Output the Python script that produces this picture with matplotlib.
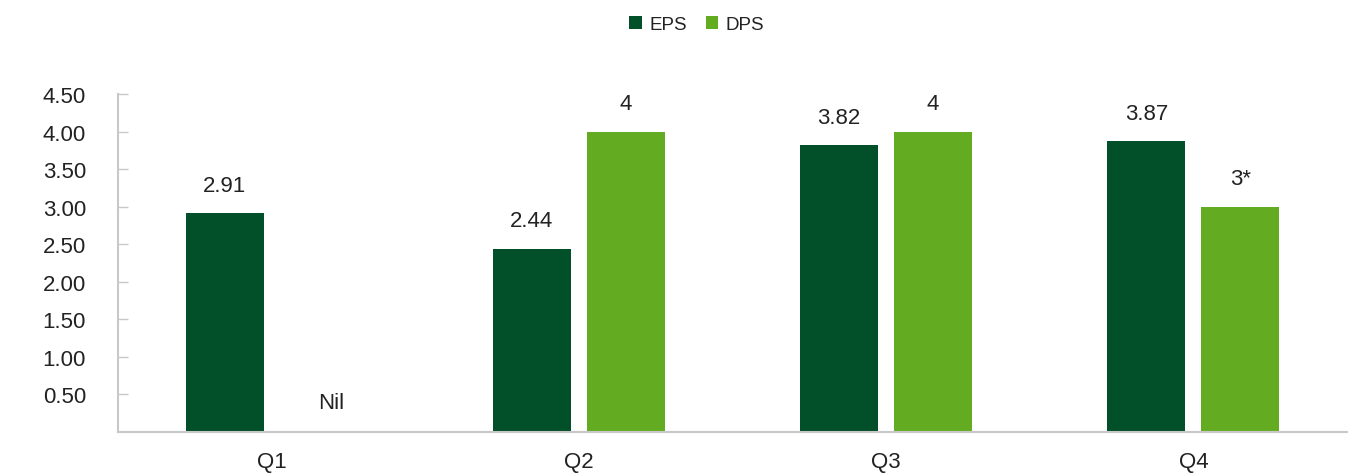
import matplotlib
matplotlib.use('Agg')
import matplotlib.pyplot as plt
import numpy as np

quarters = ['Q1', 'Q2', 'Q3', 'Q4']
eps = [2.91, 2.44, 3.82, 3.87]
dps = [0, 4, 4, 3]
eps_labels = ['2.91', '2.44', '3.82', '3.87']
dps_labels = ['Nil', '4', '4', '3*']
yticks = [0.5, 1.0, 1.5, 2.0, 2.5, 3.0, 3.5, 4.0, 4.5]

plt.rcParams['font.family'] = ['Liberation Sans', 'DejaVu Sans']
txt = '#222222'
grey = '#c8c8c8'

fig = plt.figure(figsize=(13.58, 4.77), dpi=100)
ax = fig.add_axes([0.0869, 0.0922, 0.905, 0.7086])

x = np.arange(len(quarters))
w = 0.254
off = 0.153
b1 = ax.bar(x - off, eps, w, color='#02502a', label='EPS')
b2 = ax.bar(x + off, dps, w, color='#63ac21', label='DPS')

for bars, labs in ((b1, eps_labels), (b2, dps_labels)):
    for r, lab in zip(bars, labs):
        # the empty Q1 dividend label sits a bit right of the slot
        dx = 9 if lab == 'Nil' else 0
        dy = 21 if lab == 'Nil' else 20
        ax.annotate(lab, (r.get_x() + r.get_width() / 2, r.get_height()),
                    xytext=(dx, dy), textcoords='offset points',
                    ha='center', va='center', fontsize=16, color=txt)

ax.set_xlim(-0.5, 3.5)
ax.set_ylim(0, 4.5)
ax.set_xticks(x)
ax.set_xticklabels(quarters)
ax.set_yticks(yticks)
ax.set_yticklabels(['%.2f' % v for v in yticks])
ax.tick_params(axis='x', length=0, pad=14, labelsize=16, labelcolor=txt)
ax.tick_params(axis='y', direction='in', length=7, width=1, color=grey,
               pad=23, labelsize=16, labelcolor=txt)

for s in ('top', 'right'):
    ax.spines[s].set_visible(False)
for s in ('left', 'bottom'):
    ax.spines[s].set_color(grey)
    ax.spines[s].set_linewidth(1.5)

fig.legend(loc='upper center', bbox_to_anchor=(0.513, 1.0), ncol=2, frameon=False,
           fontsize=13.5, handlelength=0.65, handleheight=0.65, handletextpad=0.4,
           columnspacing=1.0, labelcolor=txt)

fig.savefig('out.png', dpi=100)
